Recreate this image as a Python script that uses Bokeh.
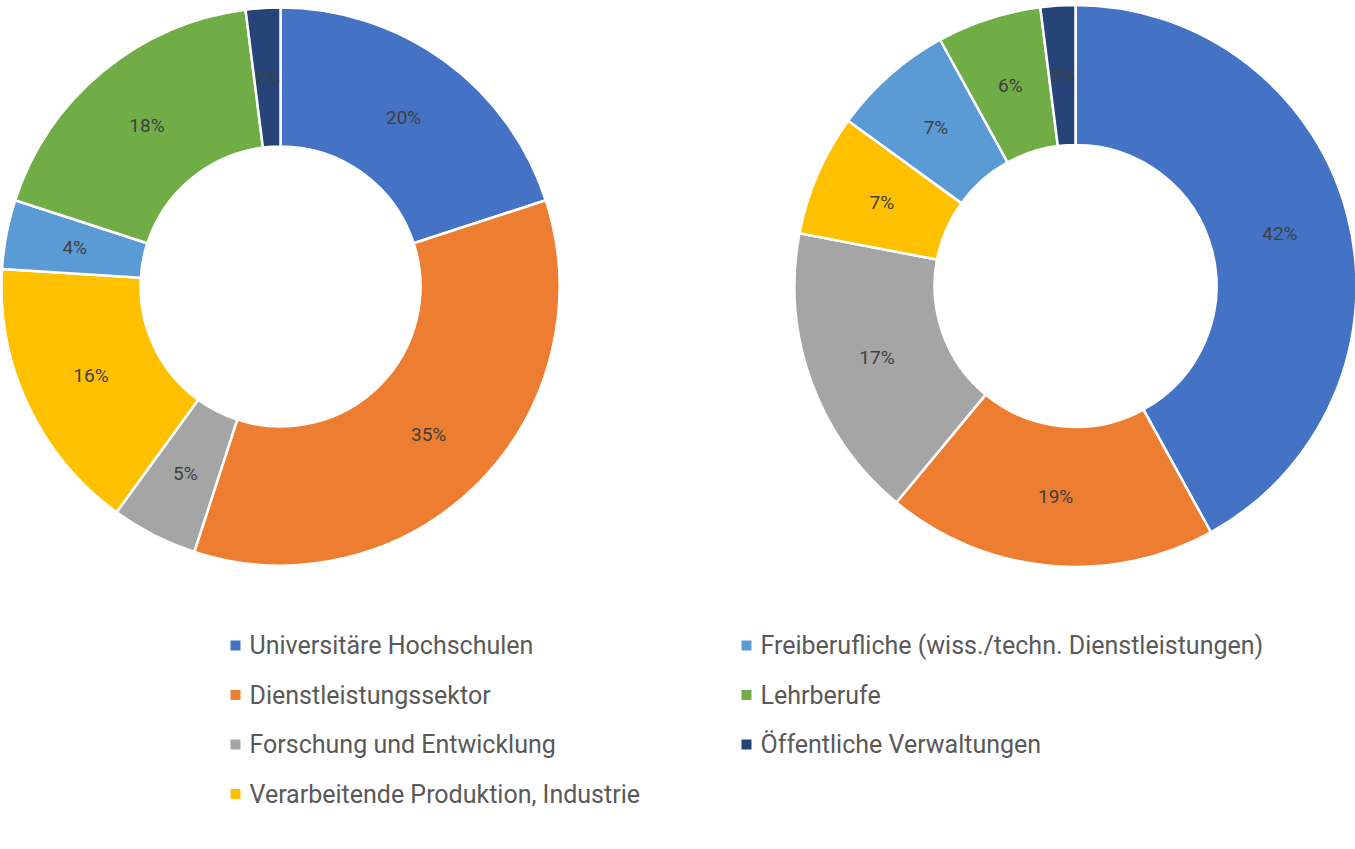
import math
from bokeh.plotting import figure
from bokeh.models import Range1d, ColumnDataSource
from bokeh.core.properties import value
from bokeh.embed import file_html
from bokeh.resources import INLINE

categories = [
    "Universitäre Hochschulen",
    "Dienstleistungssektor",
    "Forschung und Entwicklung",
    "Verarbeitende Produktion, Industrie",
    "Freiberufliche (wiss./techn. Dienstleistungen)",
    "Lehrberufe",
    "Öffentliche Verwaltungen",
]
left_values = [20, 35, 5, 16, 4, 18, 2]
right_values = [42, 19, 17, 7, 7, 6, 2]
colors = ["#4472C4", "#ED7D31", "#A5A5A5", "#FFC000", "#5B9BD5", "#70AD47", "#264478"]

W, H = 1355, 849
FONT = "Roboto"

p = figure(width=W, height=H, output_backend="svg", toolbar_location=None,
           x_range=Range1d(0, W), y_range=Range1d(0, H),
           min_border=0)
p.axis.visible = False
p.grid.visible = False
p.outline_line_color = None
p.background_fill_color = "white"


def donut(cx, cy, r_out, r_in, vals):
    total = sum(vals)
    starts, ends, lx, ly, labels = [], [], [], [], []
    cum = 0.0
    for v in vals:
        a0 = math.pi / 2 - 2 * math.pi * cum / total
        a1 = math.pi / 2 - 2 * math.pi * (cum + v) / total
        starts.append(a0)
        ends.append(a1)
        mid = (a0 + a1) / 2
        rm = (r_out + r_in) / 2
        lx.append(cx + rm * math.cos(mid))
        ly.append(cy + rm * math.sin(mid))
        labels.append(f"{v}%")
        cum += v
    src = ColumnDataSource(dict(start=starts, end=ends, color=colors))
    p.annular_wedge(x=cx, y=cy, inner_radius=r_in, outer_radius=r_out,
                    start_angle="start", end_angle="end", direction="clock",
                    fill_color="color", line_color="white", line_width=2.5,
                    source=src)
    p.text(x=lx, y=ly, text=labels, text_align="center", text_baseline="middle",
           text_font=value(FONT), text_font_size="19px", text_color="#404040",
           text_font_style="normal")


donut(280, H - 286, 279, 140, left_values)
donut(1075, H - 285.5, 281, 141, right_values)

# legend
sq_x, sq_y, tx, ty = [], [], [], []
for i, c in enumerate(categories):
    col = 0 if i < 4 else 1
    row = i if i < 4 else i - 4
    base_x = 235 if col == 0 else 746
    yy = H - (645 + row * 49.5)
    sq_x.append(base_x)
    sq_y.append(yy)
    tx.append(base_x + 14)
    ty.append(yy)
p.scatter(x=sq_x, y=sq_y, marker="square", size=10, fill_color=colors, line_color=None)
p.text(x=tx, y=ty, text=categories, text_align="left", text_baseline="middle",
       text_font=value(FONT), text_font_size="25px", text_color="#595959")

open("out.html", "w").write(file_html(p, INLINE))
